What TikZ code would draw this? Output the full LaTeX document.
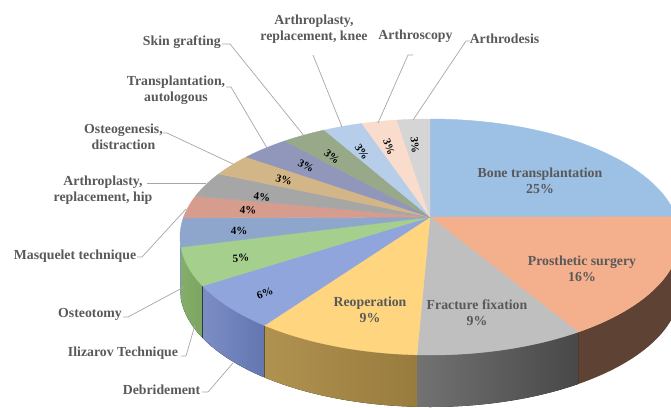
\documentclass[tikz,border=0pt]{standalone}
\usepackage{fontspec}
\setmainfont{Liberation Serif}
\definecolor{labgray}{HTML}{595959}
\definecolor{leadgray}{HTML}{A6A6A6}
\definecolor{cbone}{HTML}{9DC0E5}
\definecolor{cprost}{HTML}{F4B08D}
\definecolor{cfract}{HTML}{BFBFBF}
\definecolor{creop}{HTML}{FFD580}
\definecolor{cdebr}{HTML}{8FA5DC}
\definecolor{ciliz}{HTML}{A5CF8C}
\definecolor{costeot}{HTML}{8EA6CC}
\definecolor{cmasq}{HTML}{D69C8E}
\definecolor{chip}{HTML}{A6A6A6}
\definecolor{costeog}{HTML}{D3B688}
\definecolor{ctranspl}{HTML}{9197BA}
\definecolor{cskin}{HTML}{98A98A}
\definecolor{cknee}{HTML}{B6CEEA}
\definecolor{carthsc}{HTML}{F9DCCB}
\definecolor{carthd}{HTML}{D5D5D5}
\definecolor{sprost}{HTML}{5E4233}
\definecolor{sfractL}{HTML}{727272}
\definecolor{sfractR}{HTML}{484848}
\definecolor{sreopL}{HTML}{B09250}
\definecolor{sreopR}{HTML}{987C3E}
\definecolor{sdebrL}{HTML}{7C8DC6}
\definecolor{sdebrR}{HTML}{6376B0}
\definecolor{silizL}{HTML}{84AE6A}
\definecolor{silizR}{HTML}{7CA462}
\definecolor{sosteot}{HTML}{7E93BA}
\newcommand\pieslice[3]{\fill[fill=#1,draw=#1,line width=0.4pt,line join=round] (P) -- plot[domain=#2:#3,samples=50] ({\cx+\rx*cos(\x)},{\cy-\ry*sin(\x)}) -- cycle;}
\newcommand\pieside[3]{\fill[#1] plot[domain=#2:#3,samples=50] ({\cx+\rx*cos(\x)},{\cy-\ry*sin(\x)}) -- plot[domain=#3:#2,samples=50] ({\cx+\rx*cos(\x)},{\cy+\dep-\ry*sin(\x)}) -- cycle;}
\begin{document}
\begin{tikzpicture}[x=1pt,y=-1pt,
  lab/.style={font=\bfseries\fontsize{13.8}{16}\selectfont, text=labgray, inner sep=0pt, align=center},
  pct/.style={font=\bfseries\fontsize{11}{12}\selectfont, text=black, inner sep=0pt},
  leader/.style={draw=leadgray, line width=0.7pt}]
\useasboundingbox (0,0) rectangle (671,407);
\def\cx{430}\def\cy{237}\def\rx{250}\def\ry{118}\def\dep{52}
\coordinate (P) at (430,217);
% side walls
\pieside{fill=sprost}{-53.7}{0}
\pieside{left color=sfractL, right color=sfractR}{-93}{-53.7}
\pieside{left color=sreopL, right color=sreopR}{-131.5}{-93}
\pieside{left color=sdebrL, right color=sdebrR}{-155.5}{-131.5}
\pieside{left color=silizL, right color=silizR}{-175.1}{-155.5}
\pieside{fill=sosteot}{-180}{-175.1}
% top slices
\pieslice{cbone}{9.8}{90}
\pieslice{cprost}{-53.7}{9.8}
\pieslice{cfract}{-93}{-53.7}
\pieslice{creop}{-131.5}{-93}
\pieslice{cdebr}{-155.5}{-131.5}
\pieslice{ciliz}{-175.1}{-155.5}
\pieslice{costeot}{-189.3}{-175.1}
\pieslice{cmasq}{-200.3}{-189.3}
\pieslice{chip}{-212.3}{-200.3}
\pieslice{costeog}{-222.7}{-212.3}
\pieslice{ctranspl}{-234.5}{-222.7}
\pieslice{cskin}{-245}{-234.5}
\pieslice{cknee}{-254.2}{-245}
\pieslice{carthsc}{-262.4}{-254.2}
\pieslice{carthd}{-270}{-262.4}
% inside labels
\node[lab] (tbone) at (540,181) {Bone transplantation\\25\%};
\node[lab] (tprost) at (582,269) {Prosthetic surgery\\16\%};
\node[lab] (tfract) at (477,313) {Fracture fixation\\9\%};
\node[lab] (treop) at (370,310) {Reoperation\\9\%};
% percentages
\node[pct,rotate=20] (p6) at (265,293) {6\%};
\node[pct,rotate=3] (p5) at (241,258) {5\%};
\node[pct] (p4a) at (239,231) {4\%};
\node[pct,rotate=-3] (p4b) at (248,210) {4\%};
\node[pct,rotate=-6] (p4c) at (262,197) {4\%};
\node[pct,rotate=-15] (p3a) at (284,180) {3\%};
\node[pct,rotate=-28] (p3b) at (306,166) {3\%};
\node[pct,rotate=-40] (p3c) at (332,157) {3\%};
\node[pct,rotate=-55] (p3d) at (362,152) {3\%};
\node[pct,rotate=-70] (p3e) at (389,147) {3\%};
\node[pct,rotate=-85] (p3f) at (415,145) {3\%};
% outside labels
\node[lab,anchor=east] (lskin) at (221,42) {Skin grafting};
\node[lab] (ltranspl) at (176,90) {Transplantation,\\autologous};
\node[lab] (losteog) at (123.5,137) {Osteogenesis,\\distraction};
\node[lab] (lhip) at (103,190) {Arthroplasty,\\replacement, hip};
\node[lab] (lmasq) at (75,256) {Masquelet technique};
\node[lab] (losteot) at (90,314) {Osteotomy};
\node[lab] (liliz) at (123,353) {Ilizarov Technique};
\node[lab] (ldebr) at (161.5,390) {Debridement};
\node[lab] (lknee) at (314,29) {Arthroplasty,\\replacement, knee};
\node[lab] (larthsc) at (415.5,36) {Arthroscopy};
\node[lab] (larthd) at (504.5,39) {Arthrodesis};
% leader coordinates
\coordinate (skA) at (222,44); \coordinate (skB) at (230,44); \coordinate (skC) at (305,137);
\coordinate (trA) at (226,87); \coordinate (trB) at (231,87); \coordinate (trC) at (267,148);
\coordinate (ogA) at (163,133); \coordinate (ogB) at (167,133); \coordinate (ogC) at (233,164);
\coordinate (hiA) at (147,183); \coordinate (hiC) at (206,183);
\coordinate (maA) at (137,257); \coordinate (maB) at (142,257); \coordinate (maC) at (186,209);
\coordinate (otA) at (123,317); \coordinate (otB) at (128,317); \coordinate (otC) at (184,287);
\coordinate (ilA) at (181,356); \coordinate (ilB) at (186,356); \coordinate (ilC) at (195,325);
\coordinate (deA) at (202,392); \coordinate (deB) at (208,392); \coordinate (deC) at (233,363);
\coordinate (knA) at (313,55); \coordinate (knC) at (342,127);
\coordinate (asA) at (413,55); \coordinate (asB) at (408,55); \coordinate (asC) at (378,123);
\coordinate (adA) at (470,41); \coordinate (adB) at (466,41); \coordinate (adC) at (413,120);
\draw[leader] (skA) -- (skB) -- (skC);
\draw[leader] (trA) -- (trB) -- (trC);
\draw[leader] (ogA) -- (ogB) -- (ogC);
\draw[leader] (hiA) -- (hiC);
\draw[leader] (maA) -- (maB) -- (maC);
\draw[leader] (otA) -- (otB) -- (otC);
\draw[leader] (ilA) -- (ilB) -- (ilC);
\draw[leader] (deA) -- (deB) -- (deC);
\draw[leader] (knA) -- (knC);
\draw[leader] (asA) -- (asB) -- (asC);
\draw[leader] (adA) -- (adB) -- (adC);
\end{tikzpicture}
\end{document}
